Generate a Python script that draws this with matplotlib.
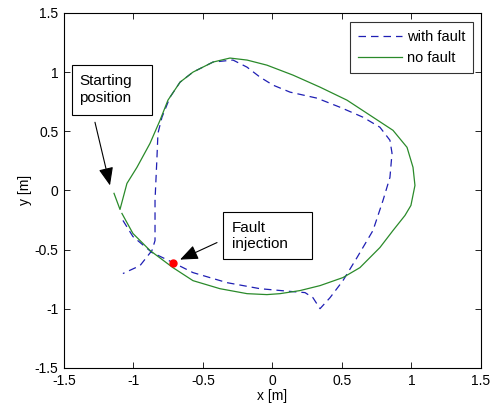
import numpy as np
import matplotlib
matplotlib.use('Agg')
import matplotlib.pyplot as plt
from matplotlib.patches import Rectangle

plt.rcParams['font.family'] = ['Liberation Sans', 'DejaVu Sans']

# trajectory without fault
x_nofault = [-1.140, -1.097, -1.047, -0.975, -0.881, -0.809, -0.752, -0.665, -0.572,
             -0.428, -0.306, -0.183, -0.040, 0.147, 0.342, 0.536, 0.723, 0.867,
             0.968, 1.011, 1.025, 0.996, 0.953, 0.867, 0.773, 0.629, 0.507, 0.342,
             0.198, 0.054, -0.040, -0.183, -0.378, -0.572, -0.716, -0.881, -1.004,
             -1.083]
y_nofault = [-0.025, -0.161, 0.059, 0.195, 0.398, 0.593, 0.763, 0.915, 1.000,
             1.085, 1.119, 1.102, 1.059, 0.975, 0.873, 0.763, 0.619, 0.508,
             0.364, 0.195, 0.042, -0.127, -0.212, -0.339, -0.483, -0.653, -0.737,
             -0.805, -0.847, -0.873, -0.881, -0.873, -0.831, -0.763, -0.653, -0.508,
             -0.364, -0.195]

# trajectory with fault
x_fault = [-1.076, -1.004, -0.867, -0.716, -0.572, -0.327, -0.090, 0.147, 0.234,
           0.291, 0.342, 0.414, 0.507, 0.608, 0.723, 0.795, 0.845, 0.860, 0.845,
           0.773, 0.651, 0.486, 0.320, 0.126, 0.004, -0.090, -0.183, -0.284,
           -0.428, -0.572, -0.665, -0.737, -0.795, -0.824, -0.831, -0.845, -0.845,
           -0.867, -0.953, -1.076]
y_fault = [-0.254, -0.390, -0.525, -0.610, -0.695, -0.780, -0.831, -0.856, -0.864,
           -0.907, -1.000, -0.907, -0.763, -0.568, -0.339, -0.085, 0.110, 0.314,
           0.424, 0.534, 0.619, 0.703, 0.780, 0.831, 0.890, 0.958, 1.042, 1.102,
           1.085, 1.000, 0.915, 0.788, 0.619, 0.483, 0.280, -0.085, -0.424,
           -0.508, -0.636, -0.703]

fault_point = (-0.716, -0.610)
start_point = (-1.169, 0.042)

ticks = [-1.5, -1, -0.5, 0, 0.5, 1, 1.5]
tick_labels = ['-1.5', '-1', '-0.5', '0', '0.5', '1', '1.5']

fig = plt.figure(figsize=(4.91, 4.15), dpi=100)
ax = fig.add_axes([0.1303, 0.1137, 0.8493, 0.855])

ax.plot(x_fault, y_fault, color='#1f1fb4', linestyle=(0, (6, 4)), linewidth=0.9,
        label='with fault')
ax.plot(x_nofault, y_nofault, color='#2a8a2a', linewidth=0.9, label='no fault')
ax.plot(fault_point[0], fault_point[1], 'o', color='red', markersize=5)

ax.set_xlim(-1.5, 1.5)
ax.set_ylim(-1.5, 1.5)
ax.set_xticks(ticks)
ax.set_xticklabels(tick_labels)
ax.set_yticks(ticks)
ax.set_yticklabels(tick_labels)
ax.tick_params(direction='in', top=True, right=True, labelsize=10, length=4, width=0.6)
ax.tick_params(axis='x', pad=4.5)
ax.tick_params(axis='y', pad=4)
for s in ax.spines.values():
    s.set_linewidth(0.8)
ax.set_xlabel('x [m]', fontsize=10, labelpad=1)
ax.set_ylabel('y [m]', fontsize=10, labelpad=2)

leg = ax.legend(loc='upper right', fontsize=10.5, fancybox=False, edgecolor='black',
                handlelength=3.0, handletextpad=0.35, borderpad=0.55, labelspacing=0.5,
                borderaxespad=0, bbox_to_anchor=(0.982, 0.975))
leg.get_frame().set_linewidth(0.8)

arrow = dict(arrowstyle='-|>,head_length=1.1,head_width=0.45', color='black',
             linewidth=0.8, shrinkA=0, shrinkB=0)
box = dict(facecolor='white', edgecolor='black', linewidth=0.8, zorder=4)

# "Starting position" text box and arrow
ax.annotate('', xy=start_point, xytext=(-1.277, 0.576), arrowprops=arrow)
ax.add_patch(Rectangle((-1.442, 0.636), 0.575, 0.423, **box))
ax.text(-1.392, 0.851, 'Starting\nposition', fontsize=11, ha='left', va='center',
        linespacing=1.25, zorder=5)

# "Fault injection" text box and arrow
ax.annotate('', xy=(-0.665, -0.585), xytext=(-0.399, -0.441), arrowprops=arrow)
ax.add_patch(Rectangle((-0.356, -0.576), 0.640, 0.390, **box))
ax.text(-0.291, -0.386, 'Fault\ninjection', fontsize=11, ha='left', va='center',
        linespacing=1.25, zorder=5)

fig.savefig('out.png', dpi=100)
